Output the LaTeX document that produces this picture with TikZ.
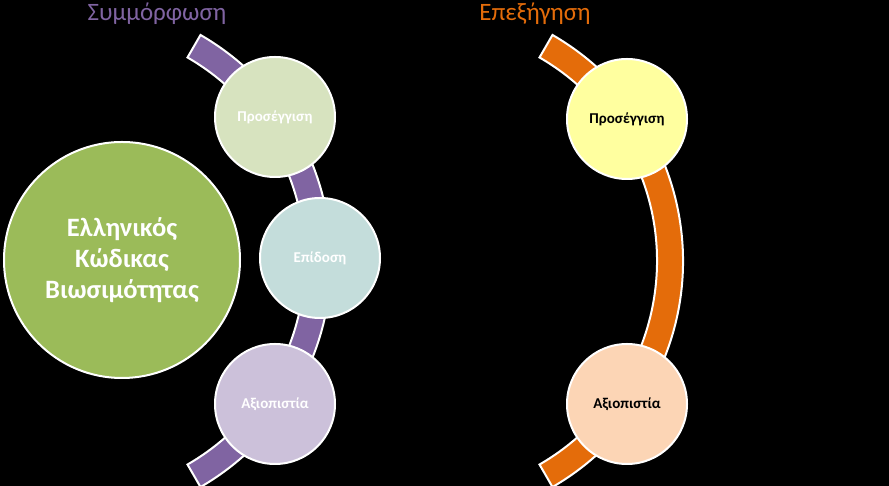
\documentclass[tikz,border=0pt]{standalone}
\usepackage{fontspec}
\setmainfont{Carlito}
\definecolor{bandpurple}{HTML}{8064A2}
\definecolor{bandorange}{HTML}{E46C0A}
\definecolor{codegreen}{HTML}{9BBB59}
\definecolor{palegreen}{HTML}{D7E3BF}
\definecolor{paleteal}{HTML}{C4DDDB}
\definecolor{palelilac}{HTML}{CCC1DA}
\definecolor{paleyellow}{HTML}{FFFF9F}
\definecolor{palepeach}{HTML}{FCD5B5}
\begin{document}
\begin{tikzpicture}[x=1pt,y=1pt,
  band/.style={draw=white,line width=2pt},
  bubble/.style={circle,draw=white,line width=2pt,minimum size=120pt,inner sep=0pt,font=\fontsize{15}{17}\selectfont\bfseries},
  heading/.style={anchor=base,font=\fontsize{25}{30}\selectfont}]
\fill[black] (0,0) rectangle (889,486);
\useasboundingbox (0,0) rectangle (889,486);
\filldraw[band,fill=bandpurple] (70,225) ++(60:261) arc[start angle=60,end angle=-60,radius=261] -- ++(120:26) arc[start angle=-60,end angle=60,radius=235] -- cycle;
\filldraw[band,fill=bandorange] (422,225) ++(60:261) arc[start angle=60,end angle=-60,radius=261] -- ++(120:26) arc[start angle=-60,end angle=60,radius=235] -- cycle;
\node[heading,text=bandpurple] (complyt) at (157,465) {Συμμόρφωση};
\node[heading,text=bandorange] (explaint) at (535,465) {Επεξήγηση};
\node[circle,draw=white,line width=2pt,fill=codegreen,minimum size=236pt,inner sep=0pt,text=white,align=center,font=\fontsize{26.5}{31}\selectfont\bfseries] (code) at (122,226) {Ελληνικός\\Κώδικας\\Βιωσιμότητας};
\node[bubble,fill=palegreen,text=white] (approachl) at (275,369) {Προσέγγιση};
\node[bubble,fill=paleteal,text=white] (performl) at (320,228) {Επίδοση};
\node[bubble,fill=palelilac,text=white] (credibl) at (275,82) {Αξιοπιστία};
\node[bubble,fill=paleyellow,text=black] (approachr) at (627,367) {Προσέγγιση};
\node[bubble,fill=palepeach,text=black] (credibr) at (627,82) {Αξιοπιστία};
\end{tikzpicture}
\end{document}
